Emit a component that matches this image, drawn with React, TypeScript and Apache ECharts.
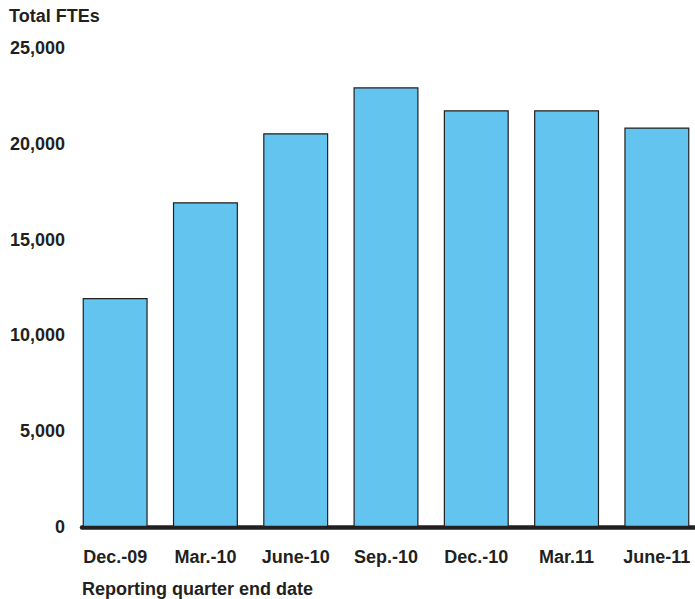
import React, { useEffect, useRef } from "react";
import * as echarts from "echarts";

const categories = ["Dec.-09", "Mar.-10", "June-10", "Sep.-10", "Dec.-10", "Mar.11", "June-11"];
const fteValues = [11950, 16950, 20550, 22950, 21750, 21750, 20850];
const yTicks = [0, 5000, 10000, 15000, 20000, 25000];

const FONT = "'Liberation Sans', Arial, sans-serif";
const TEXT = "#231f20";

export default function App() {
  const ref = useRef<HTMLDivElement>(null);
  useEffect(() => {
    if (!ref.current) return;
    const chart = echarts.init(ref.current, undefined, { renderer: "svg" });
    chart.setOption({
      animation: false,
      backgroundColor: "#ffffff",
      title: [
        {
          text: "Total FTEs",
          left: 9,
          top: 7,
          padding: 0,
          textStyle: { fontFamily: FONT, fontWeight: "bold", fontSize: 18, color: TEXT },
        },
        {
          text: "Reporting quarter end date",
          left: 82,
          top: 580,
          padding: 0,
          textStyle: { fontFamily: FONT, fontWeight: "bold", fontSize: 18, color: TEXT },
        },
      ],
      grid: [
        { left: 70, top: 48, width: 632, height: 479, containLabel: false, outerBoundsMode: "none" },
        { left: 82, top: 48, right: 0, height: 479, containLabel: false, outerBoundsMode: "none" },
      ],
      xAxis: [
        {
          type: "category",
          gridIndex: 0,
          data: categories,
          axisLine: { show: false },
          axisTick: { show: false },
          axisLabel: {
            margin: 21,
            fontFamily: FONT,
            fontWeight: "bold",
            fontSize: 18,
            color: TEXT,
          },
        },
        {
          type: "value",
          gridIndex: 1,
          min: 0,
          max: 1,
          axisLine: { show: true, lineStyle: { color: TEXT, width: 4.5 } },
          axisTick: { show: false },
          axisLabel: { show: false },
          splitLine: { show: false },
        },
      ],
      yAxis: [
        {
          type: "value",
          gridIndex: 0,
          min: yTicks[0],
          max: yTicks[yTicks.length - 1],
          interval: 5000,
          axisLine: { show: false },
          axisTick: { show: false },
          splitLine: { show: false },
          axisLabel: {
            margin: 5,
            fontFamily: FONT,
            fontWeight: "bold",
            fontSize: 18,
            color: TEXT,
            formatter: (v: number) => v.toLocaleString("en-US"),
          },
        },
        {
          type: "value",
          gridIndex: 1,
          min: 0,
          max: 1,
          show: false,
        },
      ],
      series: [
        {
          type: "bar",
          xAxisIndex: 0,
          yAxisIndex: 0,
          data: fteValues,
          barWidth: 65,
          itemStyle: { color: "#63c5ef", borderColor: "#231f20", borderWidth: 1.2 },
          z: 1,
        },
      ],
    });
    return () => chart.dispose();
  }, []);
  return <div ref={ref} style={{ width: 695, height: 599, position: "absolute", left: 0, top: 0 }} />;
}
